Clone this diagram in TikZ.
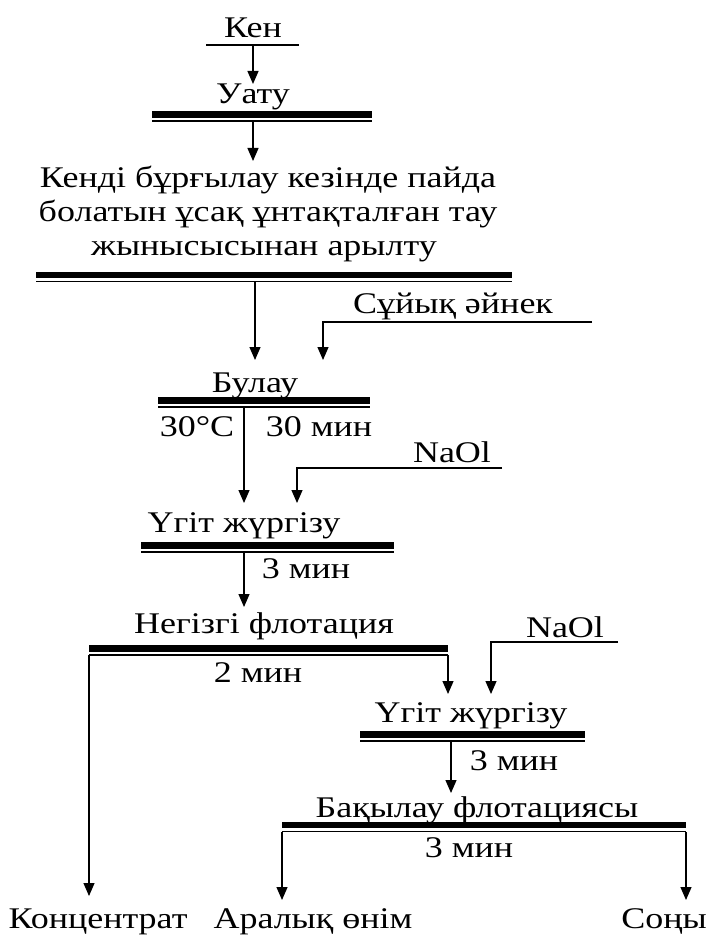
\documentclass[tikz,border=0pt]{standalone}
\usepackage{fontspec}
\setmainfont{Liberation Serif}[FakeStretch=1.2]
\usetikzlibrary{arrows.meta}
\newcommand\flowbar[4]{% name, x1, x2, y(thick centre)
  \coordinate (#1L) at (#2,#4);
  \coordinate (#1R) at (#3,#4);
  \draw[thickbar] (#1L) -- (#1R);
  \draw[thinbar] ([yshift=-6.5pt]#1L) -- ([yshift=-6.5pt]#1R);}
\begin{document}
\begin{tikzpicture}[x=1pt,y=-1pt,
  lbl/.style={font=\fontsize{30}{34}\selectfont, inner sep=0pt, anchor=base},
  conn/.style={line width=1.2pt, -{Triangle[length=13pt,width=11pt]}},
  plain/.style={line width=1.2pt},
  thickbar/.style={line width=6.5pt},
  thinbar/.style={line width=1.1pt}]
\useasboundingbox[fill=white] (0,0) rectangle (710,936);

% Кен
\node[lbl] (ken) at (253,38) {Кен};
\coordinate (kenL) at (206,45);
\coordinate (kenR) at (299,45);
\draw[plain] (kenL) -- (kenR);
\coordinate (kenO) at (253,45);
\coordinate (uatuIn) at (253,84);
\draw[conn] (kenO) -- (uatuIn);

% Уату
\node[lbl] (uatu) at (253,104) {Уату};
\flowbar{b1}{152}{372}{114.5}
\coordinate (b1O) at (253,121);
\coordinate (arIn) at (253,161);
\draw[conn] (b1O) -- (arIn);

% Арылту
\node[lbl] (ar1) at (268,187) {Кенді бұрғылау кезінде пайда};
\node[lbl] (ar2) at (268,221) {болатын ұсақ ұнтақталған тау};
\node[lbl] (ar3) at (264,255) {жынысысынан арылту};
\flowbar{b2}{36}{512}{275}
\coordinate (b2O) at (255,282);
\coordinate (bulIn) at (255,360);
\draw[conn] (b2O) -- (bulIn);

% Сұйық әйнек
\node[lbl] (glass) at (453,313) {Сұйық әйнек};
\coordinate (glassS) at (592,322);
\coordinate (glassK) at (323,322);
\coordinate (glassIn) at (323,360);
\draw[conn] (glassS) -- (glassK) -- (glassIn);

% Булау
\node[lbl] (bulau) at (255,392) {Булау};
\flowbar{b3}{158}{370}{400.5}
\node[lbl] (temp) at (197,436) {30°C};
\node[lbl] (t30) at (319,436) {30 мин};
\coordinate (b3O) at (244,407);
\coordinate (ug1In) at (244,503);
\draw[conn] (b3O) -- (ug1In);

% NaOl 1
\node[lbl] (naol1) at (452,462) {NaOl};
\coordinate (n1S) at (502,468);
\coordinate (n1K) at (297,468);
\coordinate (n1In) at (297,503);
\draw[conn] (n1S) -- (n1K) -- (n1In);

% Үгіт жүргізу 1
\node[lbl] (ug1) at (244,532) {Үгіт жүргізу};
\flowbar{b4}{141}{394}{545.5}
\node[lbl] (t3a) at (306,578) {3 мин};
\coordinate (b4O) at (244,552);
\coordinate (negIn) at (244,607);
\draw[conn] (b4O) -- (negIn);

% Негізгі флотация
\node[lbl] (neg) at (264,633) {Негізгі флотация};
\flowbar{b5}{89}{448}{648.5}
\node[lbl] (t2) at (258,682) {2 мин};
\coordinate (b5Lo) at (89,655);
\coordinate (concIn) at (89,896);
\draw[conn] (b5Lo) -- (concIn);
\coordinate (b5Ro) at (448,655);
\coordinate (ug2In) at (448,694);
\draw[conn] (b5Ro) -- (ug2In);

% NaOl 2
\node[lbl] (naol2) at (565,637) {NaOl};
\coordinate (n2S) at (618,642);
\coordinate (n2K) at (491,642);
\coordinate (n2In) at (491,694);
\draw[conn] (n2S) -- (n2K) -- (n2In);

% Үгіт жүргізу 2
\node[lbl] (ug2) at (471,722) {Үгіт жүргізу};
\flowbar{b6}{360}{585}{734.5}
\node[lbl] (t3b) at (514,770) {3 мин};
\coordinate (b6O) at (451,741);
\coordinate (bakIn) at (451,793);
\draw[conn] (b6O) -- (bakIn);

% Бақылау флотациясы
\node[lbl] (bak) at (477,817) {Бақылау флотациясы};
\flowbar{b7}{282}{686}{825}
\node[lbl] (t3c) at (469,857) {3 мин};
\coordinate (b7Lo) at (282,832);
\coordinate (midIn) at (282,900);
\draw[conn] (b7Lo) -- (midIn);
\coordinate (b7Ro) at (686,832);
\coordinate (tailIn) at (686,900);
\draw[conn] (b7Ro) -- (tailIn);

% Products
\node[lbl] (conc) at (98,928) {Концентрат};
\node[lbl] (mid) at (313,928) {Аралық өнім};
\node[lbl] (tail) at (664,928) {Соңы};
\end{tikzpicture}
\end{document}
